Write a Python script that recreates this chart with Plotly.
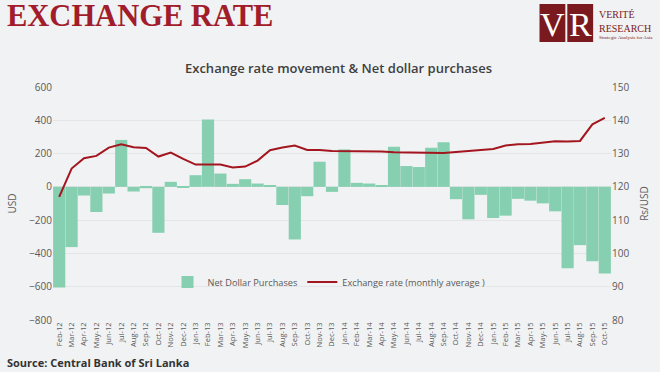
import plotly.graph_objects as go

months = ["Feb-12","Mar-12","Apr-12","May-12","Jun-12","Jul-12","Aug-12","Sep-12","Oct-12","Nov-12","Dec-12",
          "Jan-13","Feb-13","Mar-13","Apr-13","May-13","Jun-13","Jul-13","Aug-13","Sep-13","Oct-13","Nov-13","Dec-13",
          "Jan-14","Feb-14","Mar-14","Apr-14","May-14","Jun-14","Jul-14","Aug-14","Sep-14","Oct-14","Nov-14","Dec-14",
          "Jan-15","Feb-15","Mar-15","Apr-15","May-15","Jun-15","Jul-15","Aug-15","Sep-15","Oct-15"]

net_dollar_purchases = [-605, -362, -52, -151, -40, 282, -28, -8, -276, 30, -6,
                        70, 405, 80, 18, 46, 20, 6, -109, -316, -56, 151, -30,
                        225, 24, 20, 8, 241, 125, 119, 235, 268, -74, -195, -48,
                        -187, -173, -72, -83, -99, -147, -489, -350, -447, -521]

exchange_rate = [117.0, 125.5, 128.6, 129.3, 131.8, 132.8, 131.9, 131.7, 129.1, 130.3, 128.4,
                 126.7, 126.7, 126.7, 125.8, 126.1, 127.9, 131.0, 131.8, 132.4, 131.1, 131.1, 130.8,
                 130.8, 130.8, 130.7, 130.6, 130.4, 130.3, 130.2, 130.1, 130.2, 130.5, 130.8, 130.9,
                 131.4, 132.4, 132.8, 132.9, 133.3, 133.7, 133.6, 133.8, 138.8, 140.7]

W, H = 660, 372
L, R, T, B = 51, 47, 87, 52
PW, PH = W - L - R, H - T - B

def px(x):
    return (x - L) / PW

def py(y):
    return (H - B - y) / PH

fig = go.Figure()
fig.add_trace(go.Bar(x=months, y=net_dollar_purchases, name="Net Dollar Purchases",
                     marker=dict(color="#86cfb0", line=dict(width=0)), yaxis="y"))
fig.add_trace(go.Scatter(x=months, y=exchange_rate, name="Exchange rate (monthly average )",
                         mode="lines", line=dict(color="#a3161f", width=2), yaxis="y2"))

grid = "#e3e5e7"
fig.update_layout(
    width=W, height=H,
    margin=dict(l=L, r=R, t=T, b=B),
    paper_bgcolor="#f1f2f3", plot_bgcolor="rgba(0,0,0,0)",
    bargap=0.02,
    font=dict(family="Open Sans", color="#595959"),
    showlegend=True,
    legend=dict(orientation="h", x=px(329), xanchor="center", y=py(282), yanchor="middle",
                bgcolor="rgba(0,0,0,0)", font=dict(size=9.2, color="#595959"),
                itemwidth=30, tracegroupgap=0),
    xaxis=dict(type="category", range=[-0.5, 44.5], tickangle=-90, tickfont=dict(size=7.5, color="#595959"),
               showgrid=False, zeroline=False, showline=False, ticks=""),
    yaxis=dict(range=[-800, 600], dtick=200, showgrid=True, gridcolor=grid, zeroline=False,
               tickfont=dict(size=10, color="#595959"),
               title=dict(text="USD", font=dict(size=10, color="#595959"), standoff=10)),
    yaxis2=dict(range=[80, 150], dtick=10, overlaying="y", side="right", showgrid=False, zeroline=False,
                tickfont=dict(size=10, color="#595959"),
                title=dict(text="Rs/USD", font=dict(size=10, color="#595959"), standoff=12)),
)

shapes = []
shapes.append(dict(type="rect", xref="paper", yref="paper", x0=px(541), x1=px(567), y0=py(42), y1=py(4),
                   fillcolor="#7a1a1e", line=dict(width=0), layer="above"))
shapes.append(dict(type="rect", xref="paper", yref="paper", x0=px(569), x1=px(595), y0=py(42), y1=py(4),
                   fillcolor="#7a1a1e", line=dict(width=0), layer="above"))
fig.update_layout(shapes=shapes)

ann = []
ann.append(dict(text="<b>EXCHANGE RATE</b>", x=px(3), y=py(16), xref="paper", yref="paper",
                xanchor="left", yanchor="middle", showarrow=False,
                font=dict(family="Liberation Serif", size=30.5, color="#a11d2b")))
ann.append(dict(text="Exchange rate movement & Net dollar purchases", x=px(339), y=py(68), xref="paper", yref="paper",
                xanchor="center", yanchor="middle", showarrow=False,
                font=dict(family="Open Sans", size=13, color="#404040", weight=600)))
ann.append(dict(text="<b>Source: Central Bank of Sri Lanka</b>", x=px(3), y=py(362), xref="paper", yref="paper",
                xanchor="left", yanchor="middle", showarrow=False,
                font=dict(family="Open Sans", size=11, color="#333333")))
ann.append(dict(text="V", x=px(554), y=py(24), xref="paper", yref="paper", xanchor="center", yanchor="middle",
                showarrow=False, font=dict(family="Liberation Serif", size=34, color="white")))
ann.append(dict(text="R", x=px(582), y=py(24), xref="paper", yref="paper", xanchor="center", yanchor="middle",
                showarrow=False, font=dict(family="Liberation Serif", size=34, color="white")))
ann.append(dict(text="VERITÉ", x=px(599), y=py(14), xref="paper", yref="paper", xanchor="left", yanchor="middle",
                showarrow=False, font=dict(family="Liberation Serif", size=10, color="#7a1a1e")))
ann.append(dict(text="RESEARCH", x=px(599), y=py(28), xref="paper", yref="paper", xanchor="left", yanchor="middle",
                showarrow=False, font=dict(family="Liberation Serif", size=10, color="#7a1a1e")))
ann.append(dict(text="Strategic Analysis for Asia", x=px(599), y=py(38), xref="paper", yref="paper", xanchor="left",
                yanchor="middle", showarrow=False, font=dict(family="Liberation Serif", size=5, color="#7a1a1e")))
fig.update_layout(annotations=ann)

fig.write_html("out.html", config={"displayModeBar": False},
               post_script="document.body.style.margin='0';")
